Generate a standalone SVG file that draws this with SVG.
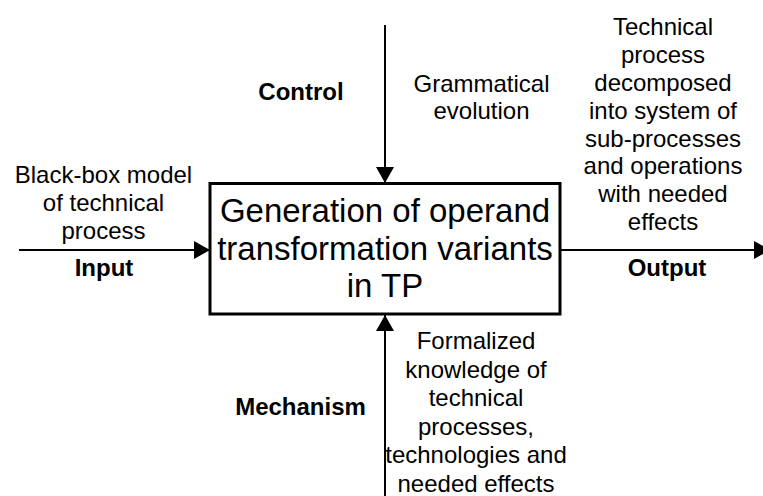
<svg xmlns="http://www.w3.org/2000/svg" width="763" height="496" viewBox="0 0 763 496">
<style>
text{font-family:"Liberation Sans",Arial,sans-serif;fill:#000;text-anchor:middle}
.t{font-size:24px}
.b{font-size:24px;font-weight:bold}
.m{font-size:33px}
.c{stroke:#000;stroke-width:2;fill:none}
</style>
<defs>
<marker id="ah" viewBox="0 0 16 18" refX="16" refY="9" markerWidth="16" markerHeight="18" markerUnits="userSpaceOnUse" orient="auto">
<path d="M0,0 L16,9 L0,18 Z" fill="#000"/>
</marker>
</defs>
<g id="connectors">
<line class="c" x1="19" y1="250" x2="210" y2="250" marker-end="url(#ah)"/>
<line class="c" x1="560" y1="250" x2="770" y2="250" marker-end="url(#ah)"/>
<line class="c" x1="385" y1="25" x2="385" y2="183" marker-end="url(#ah)"/>
<line class="c" x1="385" y1="496" x2="385" y2="315" marker-end="url(#ah)"/>
</g>
<g id="process">
<rect x="210" y="183.5" width="350" height="130.5" fill="#fff" stroke="#000" stroke-width="3"/>
<text class="m" x="385" y="222">Generation of operand</text>
<text class="m" x="385" y="259.5">transformation variants</text>
<text class="m" x="385" y="297">in TP</text>
</g>
<g id="input">
<text class="t" x="103.5" y="183">Black-box model</text>
<text class="t" x="103.5" y="211">of technical</text>
<text class="t" x="103.5" y="239">process</text>
<text class="b" x="104" y="276">Input</text>
</g>
<g id="control">
<text class="b" x="301" y="100">Control</text>
<text class="t" x="481.5" y="92">Grammatical</text>
<text class="t" x="481.5" y="119">evolution</text>
</g>
<g id="output">
<text class="t" x="663" y="35">Technical</text>
<text class="t" x="663" y="63">process</text>
<text class="t" x="663" y="91">decomposed</text>
<text class="t" x="663" y="119">into system of</text>
<text class="t" x="663" y="147">sub-processes</text>
<text class="t" x="663" y="174">and operations</text>
<text class="t" x="663" y="202">with needed</text>
<text class="t" x="663" y="230">effects</text>
<text class="b" x="667" y="276">Output</text>
</g>
<g id="mechanism">
<text class="b" x="300.5" y="415">Mechanism</text>
<text class="t" x="476" y="349">Formalized</text>
<text class="t" x="476" y="377.5">knowledge of</text>
<text class="t" x="476" y="406">technical</text>
<text class="t" x="476" y="434.5">processes,</text>
<text class="t" x="476" y="463">technologies and</text>
<text class="t" x="476" y="491.5">needed effects</text>
</g>
</svg>
